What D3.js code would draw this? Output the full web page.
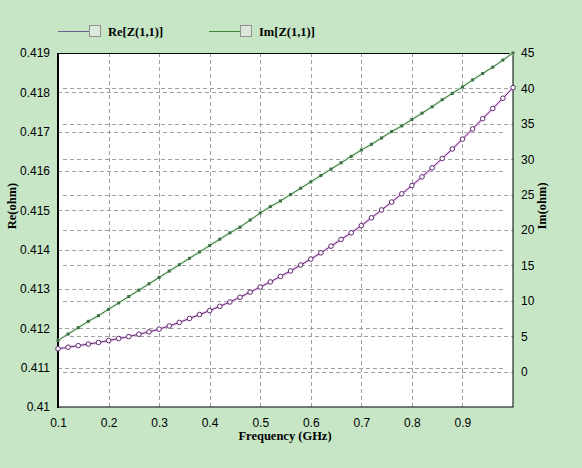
<!DOCTYPE html>
<html><head><meta charset="utf-8">
<script src="https://cdn.jsdelivr.net/npm/d3@7"></script>
<style>body{margin:0;background:#c6e6c6;} svg{display:block;}</style>
</head><body>
<svg id="chart" width="582" height="468"></svg>
<script>
const freq = d3.range(46).map(i => +(0.1 + i*0.02).toFixed(2));
const reValues = [0.41148,0.41152,0.41156,0.41160,0.41164,0.41169,0.41174,0.41179,0.41185,0.41191,
  0.41198,0.41206,0.41215,0.41225,0.41235,0.41245,0.41256,0.41267,0.41279,0.41292,
  0.41305,0.41318,0.41332,0.41346,0.41361,0.41376,0.41392,0.41409,0.41426,0.41443,
  0.41461,0.41481,0.41501,0.41521,0.41542,0.41563,0.41585,0.41608,0.41632,0.41656,
  0.41681,0.41707,0.41733,0.41759,0.41785,0.41812];
const imValues = [4.4,5.3,6.2,7.1,7.9,8.8,9.7,10.6,11.5,12.4,
  13.3,14.2,15.1,16.0,16.9,17.8,18.7,19.6,20.4,21.4,
  22.4,23.3,24.1,25.0,25.9,26.8,27.7,28.6,29.5,30.4,
  31.3,32.1,33.0,33.9,34.7,35.6,36.5,37.4,38.4,39.3,
  40.2,41.2,42.1,43.0,44.0,45.0];
const xTicks = [0.1,0.2,0.3,0.4,0.5,0.6,0.7,0.8,0.9];
const leftTicks = [0.41,0.411,0.412,0.413,0.414,0.415,0.416,0.417,0.418,0.419];
const rightTicks = [0,5,10,15,20,25,30,35,40,45];
const seriesNames = ["Re[Z(1,1)]","Im[Z(1,1)]"];

const svg = d3.select("#chart");
const L = 58, R = 513, T = 53, B = 407;
const x = d3.scaleLinear().domain([0.1,1.0]).range([L,R]);
const yL = d3.scaleLinear().domain([0.41,0.419]).range([B,T]);
const yR = d3.scaleLinear().domain([-5,45]).range([B,T]);

svg.append("rect").attr("width",582).attr("height",468).attr("fill","#c6e6c6");
svg.append("rect").attr("x",L).attr("y",T).attr("width",R-L).attr("height",B-T).attr("fill","#fff");

const grid = svg.append("g").attr("stroke","#a0a0a0").attr("stroke-dasharray","4,3").attr("stroke-width",1);
xTicks.slice(1).forEach(v => grid.append("line").attr("x1",Math.round(x(v))+0.5).attr("x2",Math.round(x(v))+0.5).attr("y1",T).attr("y2",B));
leftTicks.slice(1,-1).forEach(v => grid.append("line").attr("x1",L).attr("x2",R-8).attr("y1",Math.round(yL(v))+0.5).attr("y2",Math.round(yL(v))+0.5));
rightTicks.slice(0,-1).forEach(v => grid.append("line").attr("x1",L+5).attr("x2",R).attr("y1",Math.round(yR(v))+0.5).attr("y2",Math.round(yR(v))+0.5));

// frame
svg.append("rect").attr("x",L).attr("y",T+0.5).attr("width",R-L).attr("height",B-T-0.5).attr("fill","none").attr("stroke","#000").attr("stroke-width",1);
svg.append("line").attr("x1",L).attr("x2",L).attr("y1",T).attr("y2",B+1).attr("stroke","#000").attr("stroke-width",2);

// axes (labels only)
const font = "'Liberation Sans', Arial, sans-serif";
const axL = d3.axisLeft(yL).tickValues(leftTicks).tickFormat(d => d3.format("")(+d.toFixed(3))).tickSize(0).tickPadding(8);
const gL = svg.append("g").attr("transform",`translate(${L},0)`).call(axL);
const axR = d3.axisRight(yR).tickValues(rightTicks).tickSize(0).tickPadding(8);
const gR = svg.append("g").attr("transform",`translate(${R},0)`).call(axR);
const axB = d3.axisBottom(x).tickValues(xTicks).tickFormat(d3.format(".1f")).tickSize(0).tickPadding(11);
const gB = svg.append("g").attr("transform",`translate(0,${B})`).call(axB);
[gL,gR,gB].forEach(g => { g.select(".domain").remove(); g.selectAll("text").attr("font-family",font).attr("font-size","12px").attr("fill","#000"); });

// series
const purple = "#5e2a6e", green = "#2f6a3a";
const reLine = d3.line().x((d,i)=>x(freq[i])).y(d=>yL(d));
const imLine = d3.line().x((d,i)=>x(freq[i])).y(d=>yR(d));
svg.append("path").attr("d",reLine(reValues)).attr("fill","none").attr("stroke","#f2d2f6").attr("stroke-width",3);
svg.append("path").attr("d",imLine(imValues)).attr("fill","none").attr("stroke","#dcf2d8").attr("stroke-width",3);
svg.append("path").attr("d",reLine(reValues)).attr("fill","none").attr("stroke",purple).attr("stroke-width",1);
svg.append("path").attr("d",imLine(imValues)).attr("fill","none").attr("stroke",green).attr("stroke-width",1);
svg.append("g").selectAll("circle").data(reValues).join("circle")
  .attr("cx",(d,i)=>x(freq[i])).attr("cy",d=>yL(d)).attr("r",2.3)
  .attr("fill","#fff").attr("stroke",purple).attr("stroke-width",1);
svg.append("g").selectAll("rect").data(imValues).join("rect")
  .attr("x",(d,i)=>x(freq[i])-1.5).attr("y",d=>yR(d)-1.5).attr("width",3).attr("height",3)
  .attr("fill","#3d7048");

// legend
const legend = [{name:seriesNames[0],color:"#6a6490",x:58},{name:seriesNames[1],color:"#3a8a3a",x:209}];
legend.forEach(l => {
  svg.append("line").attr("x1",l.x).attr("x2",l.x+31).attr("y1",31.5).attr("y2",31.5).attr("stroke",l.color).attr("stroke-width",1);
  svg.append("rect").attr("x",l.x+31.5).attr("y",25.5).attr("width",11).attr("height",11).attr("fill","#dde8dd").attr("stroke","#909090");
  svg.append("text").attr("x",l.x+50).attr("y",35.5).text(l.name)
    .attr("font-family","'Liberation Serif', 'Times New Roman', serif").attr("font-weight","bold").attr("font-size","12.5px");
});

// titles
const tf = "'Liberation Serif', 'Times New Roman', serif";
svg.append("text").attr("transform","translate(16,206) rotate(-90)").attr("text-anchor","middle")
  .attr("font-family",tf).attr("font-weight","bold").attr("font-size","12.5px").text("Re(ohm)");
svg.append("text").attr("transform","translate(546,206) rotate(-90)").attr("text-anchor","middle")
  .attr("font-family",tf).attr("font-weight","bold").attr("font-size","12.5px").text("Im(ohm)");
svg.append("text").attr("x",285).attr("y",440).attr("text-anchor","middle")
  .attr("font-family",tf).attr("font-weight","bold").attr("font-size","12.5px").text("Frequency (GHz)");
</script>
</body></html>
